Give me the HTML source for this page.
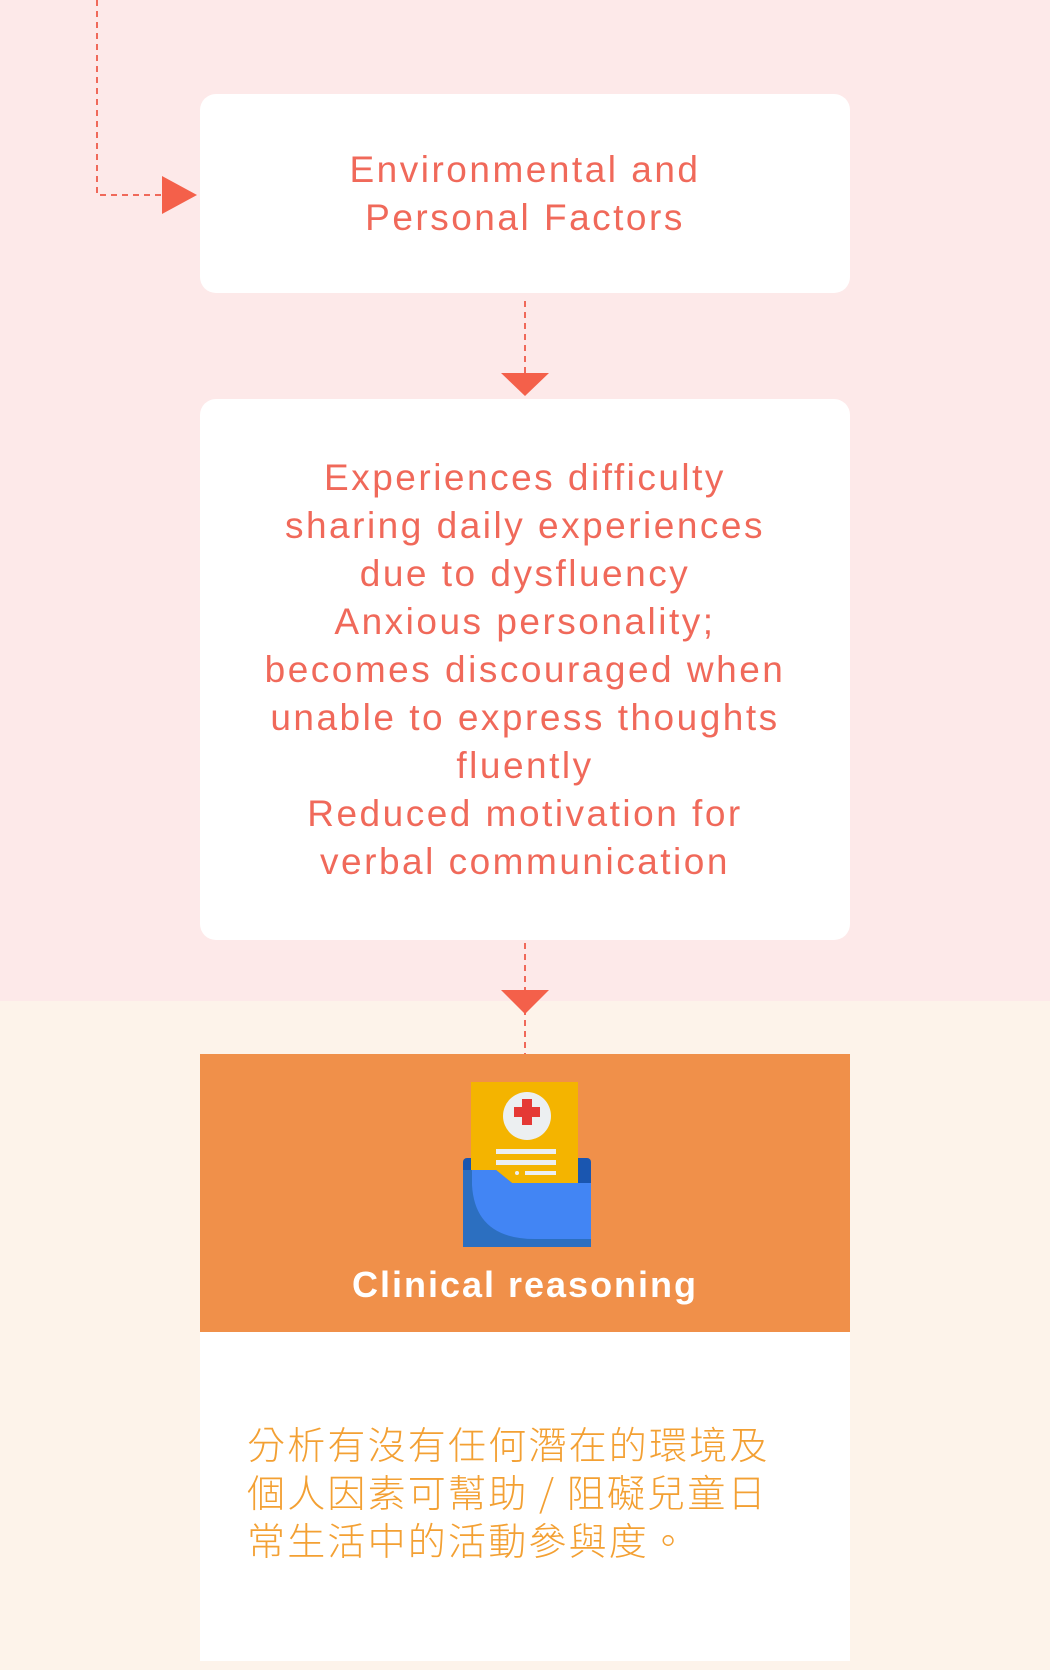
<!DOCTYPE html>
<html><head><meta charset="utf-8"><style>
*{margin:0;padding:0;box-sizing:border-box}
body{width:1050px;height:1670px;position:relative;overflow:hidden;background:#fdf3ea;font-family:"Liberation Sans","Noto Sans CJK TC",sans-serif}
.pink{position:absolute;left:0;top:0;width:1050px;height:1001px;background:#fde9e9}
.box{position:absolute;left:200px;width:650px;background:#fff;border-radius:16px;color:#f0695a;font-size:37px;letter-spacing:2.5px;line-height:48px;text-align:center;display:flex;align-items:center;justify-content:center}
.orange{position:absolute;left:200px;top:1054px;width:650px;height:278px;background:#f0904a}
.white{position:absolute;left:200px;top:1332px;width:650px;height:329px;background:#fff}
.cn{position:absolute;left:247px;top:1419px;font-size:38px;line-height:48px;color:#f3a033;letter-spacing:2.2px;font-family:"Noto Sans CJK TC",sans-serif;font-weight:300}
.title{position:absolute;left:200px;width:650px;top:1264px;text-align:center;color:#fff;font-weight:bold;font-size:36px;letter-spacing:2px}
</style></head><body>
<div class="pink"></div>
<svg width="1050" height="1670" style="position:absolute;left:0;top:0">
<g stroke="#f0695a" stroke-width="2" stroke-dasharray="6,5" fill="none">
<path d="M97 0 V195 H162"/>
<path d="M525 301 V373"/>
<path d="M525 943 V1054"/>
</g>
<g fill="#f4604a">
<polygon points="162,176 197,195 162,214"/>
<polygon points="501,373 549,373 525,396"/>
<polygon points="501,990 549,990 525,1014"/>
</g>
</svg>
<div class="box" style="top:94px;height:199px">Environmental and<br>Personal Factors</div>
<div class="box" style="top:399px;height:541px">Experiences difficulty<br>sharing daily experiences<br>due to dysfluency<br>Anxious personality;<br>becomes discouraged when<br>unable to express thoughts<br>fluently<br>Reduced motivation for<br>verbal communication</div>
<div class="orange"></div>
<svg width="1050" height="1670" style="position:absolute;left:0;top:0">
<rect x="463" y="1158" width="128" height="89" rx="4" fill="#1a56b0"/>
<rect x="471" y="1082" width="107" height="101" fill="#f4b400"/>
<circle cx="527" cy="1116" r="24" fill="#eceff1"/>
<rect x="514" y="1107" width="26" height="10" fill="#e53935"/>
<rect x="522" y="1099" width="10" height="26" fill="#e53935"/>
<rect x="496" y="1149" width="60" height="5" fill="#eceff1"/>
<rect x="496" y="1160" width="60" height="5" fill="#eceff1"/>
<rect x="525" y="1171" width="31" height="4" fill="#eceff1"/>
<circle cx="517" cy="1173" r="2" fill="#eceff1"/>
<path d="M463 1170 H496 L512 1183 H591 V1247 H463 Z" fill="#2c6fc0"/>
<path d="M472 1170 H496 L512 1183 H591 V1239 H535 Q475 1239 472 1185 Z" fill="#4285f4"/>
</svg>
<div class="title">Clinical reasoning</div>
<div class="white"></div>
<div class="cn">分析有沒有任何潛在的環境及<br>個人因素可幫助 / 阻礙兒童日<br>常生活中的活動參與度。</div>
</body></html>
